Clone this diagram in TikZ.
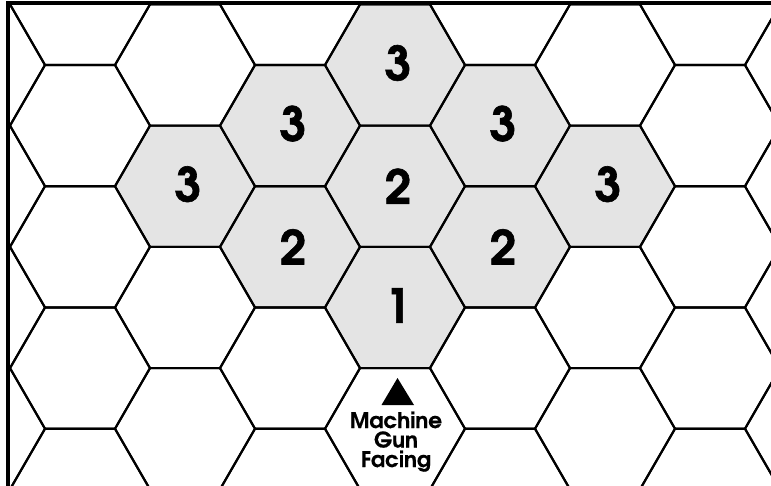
\documentclass[tikz,border=0pt]{standalone}
\usepackage{fontspec}
\setmainfont{texgyreadventor}[Extension=.otf,UprightFont=*-regular,BoldFont=*-bold]
\newfontfamily\heavyfont{texgyreadventor}[Extension=.otf,UprightFont=*-bold,FakeBold=1.3]
\newfontfamily\demifont{texgyreadventor}[Extension=.otf,UprightFont=*-bold,FakeBold=0.5]
\usepackage{tikz}
\usetikzlibrary{calc}
\definecolor{cellgray}{HTML}{E4E4E4}
\definecolor{inkc}{HTML}{000000}
\tikzset{
  hexline/.style={line width=2.1pt,line join=miter,inkc},
  framel/.style={line width=3.2pt,line join=miter,inkc},
  rangelbl/.style={font=\heavyfont\fontsize{47}{47}\selectfont,inner sep=0pt,inkc},
  mglbl/.style={font=\demifont\fontsize{21.5}{19.5}\selectfont,align=center,inner sep=0pt,inkc}
}
\newcommand{\hexpath}[2]{(#1,#2) +(0:70)--+(60:70)--+(120:70)--+(180:70)--+(240:70)--+(300:70)--cycle}

\begin{document}
\begin{tikzpicture}[x=1pt,y=-1pt]
\useasboundingbox (0,0) rectangle (771,486);
% shaded range hexes
\foreach \x/\y in {395/65,290/125.6,500/125.6,185/186.2,605/186.2,395/186.2,290/246.8,500/246.8,395/307.5}
  \fill[cellgray] \hexpath{\x}{\y};
\begin{scope}
\clip (8,3) rectangle (771,486);
\foreach \k in {-4,...,4}{
  \pgfmathsetmacro{\cx}{395+105*\k}
  \pgfmathsetmacro{\cy}{isodd(\k) ? 4.4 : 65}
  \foreach \j in {-1,...,4}
    \draw[hexline] \hexpath{\cx}{\cy+121.24*\j};
}
\end{scope}
\draw[framel] (8,486) -- (8,3) -- (771,3);
\foreach \x/\y/\n/\nm in {395/63/3/ra,290/123.6/3/rb,500/123.6/3/rc,185/184.2/3/rd,605/184.2/3/re,
  395/186.2/2/rf,290/246.8/2/rg,500/246.8/2/rh,395/305.5/1/ri}
  \node[rangelbl] (\nm) at (\x+3,\y) {\n};
\fill[inkc] (397.5,378) -- (414,405) -- (381.5,405) -- cycle;
\node[mglbl,anchor=base] (mg) at (396,467) {Machine\\Gun\\Facing};
\end{tikzpicture}
\end{document}
